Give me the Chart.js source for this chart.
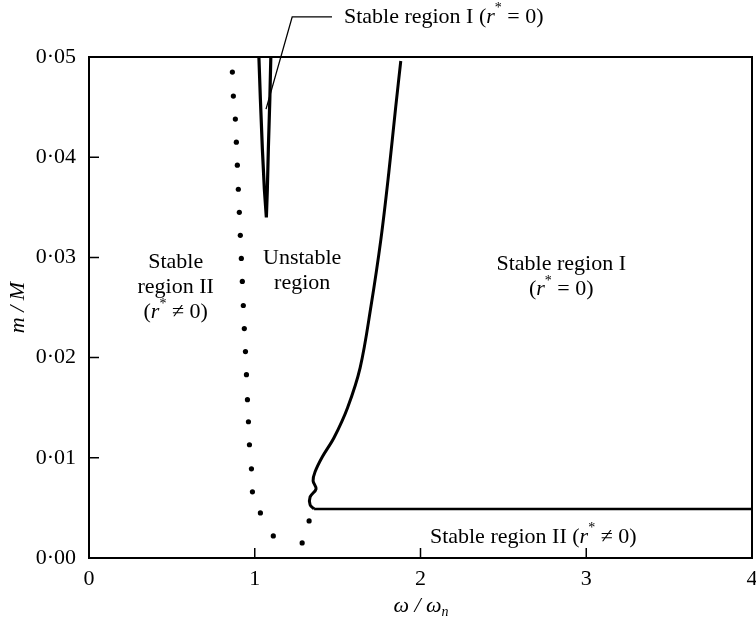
<!DOCTYPE html>
<html>
<head>
<meta charset="utf-8">
<script src="https://cdn.jsdelivr.net/npm/chart.js@4.4.0/dist/chart.umd.min.js"></script>
<style>
  html, body { margin: 0; padding: 0; background: #fff; }
</style>
</head>
<body>
<canvas id="stabilityChart" width="756" height="626"></canvas>
<script>
// axis ticks
const xTicks = [0, 1, 2, 3, 4];
const yTicks = [0, 0.01, 0.02, 0.03, 0.04, 0.05];

// dotted boundary (stable region II / unstable)
const dotX = [0.865, 0.871, 0.883, 0.889, 0.895, 0.901, 0.907, 0.913, 0.919, 0.925, 0.931, 0.937,
              0.944, 0.950, 0.956, 0.962, 0.968, 0.980, 0.986, 1.034, 1.112, 1.286, 1.328];
const dotY = [0.0485, 0.0461, 0.0438, 0.0415, 0.0392, 0.0368, 0.0345, 0.0322, 0.0299, 0.0276, 0.0252, 0.0229,
              0.0206, 0.0183, 0.0158, 0.0136, 0.0113, 0.0089, 0.0066, 0.0045, 0.0022, 0.0015, 0.0037];

// narrow cusp (stable region I)
const cuspX = [1.025, 1.034, 1.046, 1.058, 1.070, 1.076, 1.082, 1.091, 1.097];
const cuspY = [0.0500, 0.0458, 0.0408, 0.0368, 0.0340, 0.0368, 0.0408, 0.0458, 0.0500];

// right boundary of the unstable region
const boundX = [1.881, 1.851, 1.809, 1.761, 1.701, 1.636, 1.560, 1.478, 1.408, 1.364, 1.352, 1.370, 1.334, 1.334, 1.358];
const boundY = [0.0496, 0.0451, 0.0385, 0.0318, 0.0251, 0.0190, 0.0150, 0.0120, 0.0101, 0.0086, 0.0077, 0.0069, 0.0061, 0.0053, 0.0049];

// lower boundary of stable region I
const floorX = [1.358, 4.0];
const floorY = [0.0049, 0.0049];

// leader line for the top label
const leaderX = [1.068, 1.226, 1.466];
const leaderY = [0.0448, 0.0540, 0.0540];

function pts(xs, ys) {
  return xs.map((x, i) => ({ x: x, y: ys[i] }));
}

const FONT = '"Liberation Serif", "Times New Roman", serif';
const STY = {
  n:   { it: false, k: 1,    dy: 0 },
  i:   { it: true,  k: 1,    dy: 0 },
  sup: { it: false, k: 0.62, dy: -0.38 },
  sub: { it: true,  k: 0.62, dy: 0.3 }
};

// annotations: position in data units, lines made of [text, style] runs
const rStar = (rel) => [['(', 'n'], ['r', 'i'], ['*', 'sup'], [' ' + rel + ' 0)', 'n']];
const notes = [
  { x: 0.523, y: 0.0295, align: 'center', lines: [[['Stable', 'n']], [['region II', 'n']], rStar('≠')] },
  { x: 1.286, y: 0.0299, align: 'center', lines: [[['Unstable', 'n']], [['region', 'n']]] },
  { x: 2.849, y: 0.0293, align: 'center', lines: [[['Stable region I', 'n']], rStar('=')] },
  { x: 2.680, y: 0.0021, align: 'center', lines: [[['Stable region II ', 'n']].concat(rStar('≠'))] },
  { x: 1.538, y: 0.0540, align: 'left',   lines: [[['Stable region I ', 'n']].concat(rStar('='))] }
];

function runFont(s, size) {
  const st = STY[s];
  return (st.it ? 'italic ' : '') + Math.round(size * st.k) + 'px ' + FONT;
}

function drawRich(ctx, runs, x, y, size, align) {
  let total = 0;
  const widths = runs.map(([t, s]) => {
    ctx.font = runFont(s, size);
    const w = ctx.measureText(t).width;
    total += w;
    return w;
  });
  let cx = align === 'center' ? x - total / 2 : x;
  ctx.textAlign = 'left';
  ctx.textBaseline = 'middle';
  runs.forEach(([t, s], i) => {
    ctx.font = runFont(s, size);
    ctx.fillText(t, cx, y + STY[s].dy * size);
    cx += widths[i];
  });
}

const framePlugin = {
  id: 'frame',
  afterDraw(chart) {
    const ctx = chart.ctx;
    const a = chart.chartArea;
    const xs = chart.scales.x, ys = chart.scales.y;
    ctx.save();
    ctx.strokeStyle = '#000';
    ctx.fillStyle = '#000';

    // box
    ctx.lineWidth = 2;
    ctx.strokeRect(a.left, a.top, a.right - a.left, a.bottom - a.top);

    // inward ticks
    ctx.lineWidth = 1.5;
    ctx.beginPath();
    xTicks.slice(1, -1).forEach(v => {
      const px = xs.getPixelForValue(v);
      ctx.moveTo(px, a.bottom);
      ctx.lineTo(px, a.bottom - 10);
    });
    yTicks.slice(1, -1).forEach(v => {
      const py = ys.getPixelForValue(v);
      ctx.moveTo(a.left, py);
      ctx.lineTo(a.left + 10, py);
    });
    ctx.stroke();

    // leader line
    ctx.lineWidth = 1.3;
    ctx.beginPath();
    leaderX.forEach((v, i) => {
      const px = xs.getPixelForValue(v), py = ys.getPixelForValue(leaderY[i]);
      if (i === 0) ctx.moveTo(px, py); else ctx.lineTo(px, py);
    });
    ctx.stroke();

    // region labels
    notes.forEach(n => {
      const px = xs.getPixelForValue(n.x), py = ys.getPixelForValue(n.y);
      n.lines.forEach((runs, i) => drawRich(ctx, runs, px, py + i * 25, 22, n.align));
    });

    // axis titles
    drawRich(ctx, [['ω / ω', 'i'], ['n', 'sub']], 421, 606, 22, 'center');
    ctx.translate(18, (a.top + a.bottom) / 2);
    ctx.rotate(-Math.PI / 2);
    drawRich(ctx, [['m / M', 'i']], 0, 0, 22, 'center');
    ctx.restore();
  }
};

const ctx = document.getElementById('stabilityChart').getContext('2d');
new Chart(ctx, {
  type: 'scatter',
  data: {
    datasets: [
      {
        data: pts(dotX, dotY),
        pointRadius: 2.6,
        pointBackgroundColor: '#000',
        pointBorderWidth: 0,
        showLine: false
      },
      {
        data: pts(cuspX, cuspY),
        showLine: true,
        borderColor: '#000',
        borderWidth: 3.2,
        pointRadius: 0,
        tension: 0
      },
      {
        data: pts(boundX, boundY),
        showLine: true,
        borderColor: '#000',
        borderWidth: 3,
        pointRadius: 0,
        tension: 0.35
      },
      {
        data: pts(floorX, floorY),
        showLine: true,
        borderColor: '#000',
        borderWidth: 2.5,
        pointRadius: 0,
        tension: 0
      }
    ]
  },
  options: {
    responsive: false,
    animation: false,
    devicePixelRatio: 1,
    layout: { padding: { top: 57, right: 2, left: 0, bottom: 0 } },
    plugins: { legend: { display: false }, tooltip: { enabled: false } },
    scales: {
      x: {
        type: 'linear',
        min: 0,
        max: 4,
        afterFit(scale) {
          scale.height = 68;
          scale.paddingLeft = 0;
          scale.paddingRight = 0;
        },
        afterBuildTicks(scale) { scale.ticks = xTicks.map(v => ({ value: v })); },
        grid: { display: false, drawTicks: false },
        border: { display: false },
        ticks: {
          padding: 8,
          color: '#000',
          font: { family: FONT, size: 22 },
          callback: v => String(v)
        }
      },
      y: {
        type: 'linear',
        min: 0,
        max: 0.05,
        afterFit(scale) {
          scale.width = 89;
          scale.paddingTop = 0;
          scale.paddingBottom = 0;
        },
        afterBuildTicks(scale) { scale.ticks = yTicks.map(v => ({ value: v })); },
        grid: { display: false, drawTicks: false },
        border: { display: false },
        ticks: {
          padding: 13,
          color: '#000',
          font: { family: FONT, size: 22 },
          callback: v => v.toFixed(2).replace('.', '·')
        }
      }
    }
  },
  plugins: [framePlugin]
});
</script>
</body>
</html>
